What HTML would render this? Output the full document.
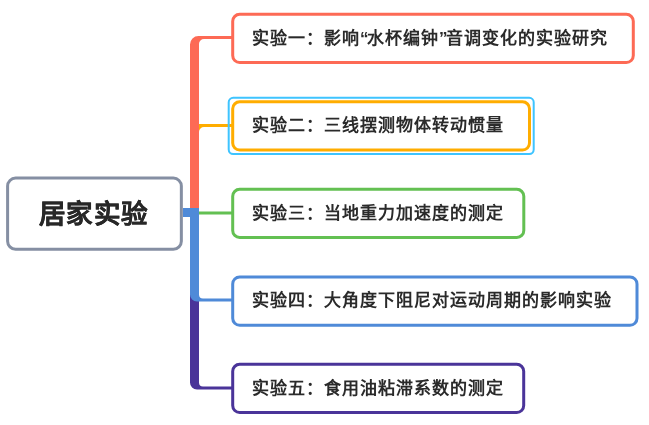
<!DOCTYPE html>
<html lang="zh-CN">
<head>
<meta charset="utf-8">
<style>
html,body{margin:0;padding:0;background:#fff;}
body{width:649px;height:425px;position:relative;overflow:hidden;font-family:"Liberation Sans",sans-serif;}
svg{position:absolute;left:0;top:0;}
.t{position:absolute;will-change:transform;font-size:17px;letter-spacing:1px;font-weight:bold;color:#2a2a2a;white-space:nowrap;line-height:20px;}
.q{letter-spacing:-1.5px;}
.root{position:absolute;will-change:transform;-webkit-text-stroke:0.3px #282828;font-size:26.5px;letter-spacing:1.3px;font-weight:bold;color:#282828;white-space:nowrap;line-height:30px;}
</style>
</head>
<body>
<svg width="649" height="425" viewBox="0 0 649 425">
  <!-- green branch -->
  <path d="M183 211.5 H232 V214.5 H183 Z" fill="#63c052"/>
  <!-- yellow branch -->
  <path d="M190 212 V133 A9 9 0 0 1 199 124 H232 V127 H204 A5 5 0 0 0 199 132 V212 Z" fill="#ffad00"/>
  <!-- red branch -->
  <path d="M183 208 H190 V44.5 A8.5 8.5 0 0 1 198.5 36 H232 V39 H204 A5 5 0 0 0 199 44 V217 H183 Z" fill="#fd6a55"/>
  <!-- purple branch -->
  <path d="M183 208 H199 V382.5 A4 4 0 0 0 203 386.5 H232 V389.5 H197 A7 7 0 0 1 190 382.5 V217 H183 Z" fill="#4a3499"/>
  <!-- blue branch -->
  <path d="M183 208 H199 V294.5 A4 4 0 0 0 203 298.5 H232 V301.5 H197 A7 7 0 0 1 190 294.5 V217 H183 Z" fill="#4f8ad8"/>

  <!-- root box -->
  <rect x="7.6" y="178.1" width="173.75" height="71.1" rx="8" ry="8" fill="#fff" stroke="#858fa3" stroke-width="3"/>
  <!-- selection outline -->
  <rect x="228.7" y="97.8" width="305" height="56.3" rx="4.5" ry="4.5" fill="none" stroke="#3ec4ff" stroke-width="2"/>
  <!-- boxes -->
  <rect x="232.7" y="14.35" width="400.6" height="48.25" rx="7" ry="7" fill="#fff" stroke="#fd6a55" stroke-width="3"/>
  <rect x="232.7" y="101.8" width="296.8" height="48.26" rx="7" ry="7" fill="#fff" stroke="#ffad00" stroke-width="3"/>
  <rect x="232.7" y="189.35" width="291.1" height="48.05" rx="7" ry="7" fill="#fff" stroke="#63c052" stroke-width="3"/>
  <rect x="232.7" y="277" width="404.3" height="48.24" rx="7" ry="7" fill="#fff" stroke="#4f8ad8" stroke-width="3"/>
  <rect x="232.7" y="364.35" width="291" height="48.25" rx="7" ry="7" fill="#fff" stroke="#4a3499" stroke-width="3"/>
</svg>
<div class="root" style="left:38.5px;top:199px;">居家实验</div>
<div class="t" style="left:251.6px;top:29px;">实验一：影响<span class="q">“</span>水杯编钟<span class="q">”</span>音调变化的实验研究</div>
<div class="t" style="left:251.6px;top:116px;">实验二：三线摆测物体转动惯量</div>
<div class="t" style="left:251.6px;top:204px;">实验三：当地重力加速度的测定</div>
<div class="t" style="left:251.6px;top:291px;">实验四：大角度下阻尼对运动周期的影响实验</div>
<div class="t" style="left:251.6px;top:378.5px;">实验五：食用油粘滞系数的测定</div>
</body>
</html>
